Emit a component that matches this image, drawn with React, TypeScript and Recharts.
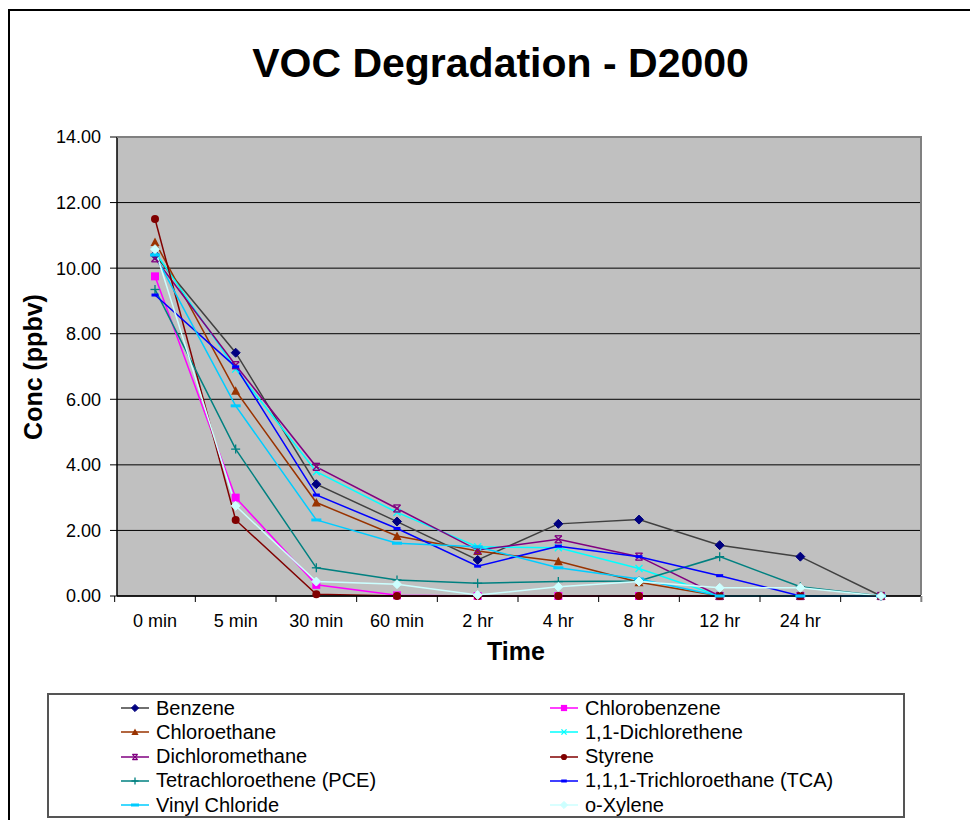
import { LineChart, Line, XAxis, YAxis, CartesianGrid } from 'recharts';

const categories = ['0 min', '5 min', '30 min', '60 min', '2 hr', '4 hr', '8 hr', '12 hr', '24 hr', ''];
const yTicks = [0, 2, 4, 6, 8, 10, 12, 14];

const benzene = [10.4, 7.42, 3.41, 2.27, 1.1, 2.2, 2.33, 1.55, 1.2, 0];
const chlorobenzene = [9.75, 3.0, 0.34, 0.02, 0, 0, 0, 0, 0, 0];
const chloroethane = [10.8, 6.26, 2.85, 1.83, 1.37, 1.06, 0.42, 0, 0, 0];
const dichlorethene = [10.5, 6.92, 3.79, 2.55, 1.5, 1.47, 0.84, 0, 0, 0];
const dichloromethane = [10.3, 7.04, 3.94, 2.67, 1.4, 1.73, 1.2, 0, 0, 0];
const styrene = [11.5, 2.32, 0.05, 0, 0, 0, 0, 0, 0, 0];
const pce = [9.35, 4.48, 0.86, 0.49, 0.39, 0.44, 0.46, 1.2, 0.28, 0];
const tca = [9.18, 6.99, 3.08, 2.06, 0.91, 1.52, 1.2, 0.62, 0, 0];
const vinylChloride = [10.4, 5.8, 2.32, 1.61, 1.5, 0.86, 0.52, 0, 0, 0];
const oXylene = [10.58, 2.75, 0.44, 0.36, 0.03, 0.28, 0.44, 0.25, 0.25, 0];

type Shape = 'diamond' | 'square' | 'triangle' | 'star' | 'x' | 'circle' | 'plus' | 'dash' | 'longdash';

interface Series {
  name: string;
  values: number[];
  stroke: string;
  marker: string;
  shape: Shape;
}

// drawing order (later on top), as in the original workbook
const series: Series[] = [
  { name: 'Benzene', values: benzene, stroke: '#404040', marker: '#000080', shape: 'diamond' },
  { name: 'Chlorobenzene', values: chlorobenzene, stroke: '#FF00FF', marker: '#FF00FF', shape: 'square' },
  { name: 'Chloroethane', values: chloroethane, stroke: '#993300', marker: '#993300', shape: 'triangle' },
  { name: '1,1-Dichlorethene', values: dichlorethene, stroke: '#00FFFF', marker: '#00FFFF', shape: 'x' },
  { name: 'Dichloromethane', values: dichloromethane, stroke: '#800080', marker: '#800080', shape: 'star' },
  { name: 'Styrene', values: styrene, stroke: '#800000', marker: '#800000', shape: 'circle' },
  { name: 'Tetrachloroethene (PCE)', values: pce, stroke: '#008080', marker: '#008080', shape: 'plus' },
  { name: '1,1,1-Trichloroethane (TCA)', values: tca, stroke: '#0000FF', marker: '#0000FF', shape: 'dash' },
  { name: 'Vinyl Chloride', values: vinylChloride, stroke: '#00CCFF', marker: '#00CCFF', shape: 'longdash' },
  { name: 'o-Xylene', values: oXylene, stroke: '#CCFFFF', marker: '#CCFFFF', shape: 'diamond' },
];

const legendRows = [
  ['Benzene', 'Chlorobenzene'],
  ['Chloroethane', '1,1-Dichlorethene'],
  ['Dichloromethane', 'Styrene'],
  ['Tetrachloroethene (PCE)', '1,1,1-Trichloroethane (TCA)'],
  ['Vinyl Chloride', 'o-Xylene'],
];

const chartData = categories.map((time, i) => {
  const row: Record<string, string | number> = { time };
  series.forEach((s) => {
    row[s.name] = s.values[i];
  });
  return row;
});

const FONT = '"Liberation Sans", Arial, sans-serif';
const W = 970;
const H = 812;
const PLOT_LEFT = 109;
const PLOT_RIGHT = 913;
const PLOT_TOP = 129;
const PLOT_BOTTOM = 588;
const PAD_L = 38;
const PAD_R = 40;
const STEP = (PLOT_RIGHT - PLOT_LEFT - PAD_L - PAD_R) / (categories.length - 1);

function marker(shape: Shape, color: string, cx: number, cy: number, size = 1) {
  const s = 4.5 * size;
  switch (shape) {
    case 'diamond':
      return <polygon points={`${cx},${cy - s} ${cx + s},${cy} ${cx},${cy + s} ${cx - s},${cy}`} fill={color} stroke={color} />;
    case 'square':
      return <rect x={cx - s + 0.5} y={cy - s + 0.5} width={2 * s - 1} height={2 * s - 1} fill={color} />;
    case 'triangle':
      return <polygon points={`${cx},${cy - s} ${cx + s},${cy + s - 0.5} ${cx - s},${cy + s - 0.5}`} fill={color} />;
    case 'circle':
      return <circle cx={cx} cy={cy} r={s - 0.5} fill={color} />;
    case 'x':
      return (
        <g stroke={color} strokeWidth={1.3}>
          <line x1={cx - s + 1} y1={cy - s + 1} x2={cx + s - 1} y2={cy + s - 1} />
          <line x1={cx - s + 1} y1={cy + s - 1} x2={cx + s - 1} y2={cy - s + 1} />
        </g>
      );
    case 'star':
      return (
        <g stroke={color} strokeWidth={1.3}>
          <line x1={cx - s + 1} y1={cy - s + 1} x2={cx + s - 1} y2={cy + s - 1} />
          <line x1={cx - s + 1} y1={cy + s - 1} x2={cx + s - 1} y2={cy - s + 1} />
          <line x1={cx - s + 1} y1={cy - s + 1} x2={cx + s - 1} y2={cy - s + 1} />
          <line x1={cx - s + 1} y1={cy + s - 1} x2={cx + s - 1} y2={cy + s - 1} />
        </g>
      );
    case 'plus':
      return (
        <g stroke={color} strokeWidth={1.3}>
          <line x1={cx - s} y1={cy} x2={cx + s} y2={cy} />
          <line x1={cx} y1={cy - s} x2={cx} y2={cy + s} />
        </g>
      );
    case 'dash':
      return <rect x={cx - 3.5 * size} y={cy - 1.5} width={7 * size} height={3} fill={color} />;
    case 'longdash':
      return <rect x={cx - 5 * size} y={cy - 1.5} width={10 * size} height={3} fill={color} />;
  }
}

function makeDot(s: Series) {
  return (props: any) => {
    const { cx, cy, index } = props;
    if (cx == null || cy == null) return <g key={`${s.name}-${index}`} />;
    return <g key={`${s.name}-${index}`}>{marker(s.shape, s.marker, cx, cy)}</g>;
  };
}

function TimeTick(props: any) {
  const { x, y, payload, index } = props;
  const last = index === categories.length - 1;
  return (
    <g>
      <line x1={x - STEP / 2} y1={y} x2={x - STEP / 2} y2={y + 6} stroke="#000" />
      {last && <line x1={x + STEP / 2} y1={y} x2={x + STEP / 2} y2={y + 6} stroke="#808080" strokeWidth={2} />}
      <text x={x} y={y + 31} textAnchor="middle" fontSize={18} fontFamily={FONT} fill="#000">
        {payload.value}
      </text>
    </g>
  );
}

function LegendItem({ name }: { name: string }) {
  const s = series.find((x) => x.name === name)!;
  return (
    <div style={{ display: 'flex', alignItems: 'center', height: 24 }}>
      <svg width={28} height={12} style={{ display: 'block' }}>
        <line x1={0} y1={6} x2={28} y2={6} stroke={s.stroke} strokeWidth={1.5} />
        {marker(s.shape, s.marker, 14, 6, 0.8)}
      </svg>
      <span style={{ marginLeft: 7, fontSize: 20, fontFamily: FONT, color: '#000', whiteSpace: 'nowrap' }}>{name}</span>
    </div>
  );
}

export default function App() {
  return (
    <div style={{ position: 'relative', width: W, height: H, overflow: 'hidden', background: '#fff' }}>
      {/* outer chart border, runs off the page on the right and bottom */}
      <div style={{ position: 'absolute', left: 0, top: 1, width: 1000, height: 1000, border: '2px solid #000', boxSizing: 'border-box' }} />

      <div style={{ position: 'absolute', left: 0, top: 31, width: 985, textAlign: 'center', fontFamily: FONT, fontWeight: 'bold', fontSize: 41, lineHeight: '48px' }}>
        VOC Degradation - D2000
      </div>

      <div style={{ position: 'absolute', left: 0, top: 0 }}>
        <LineChart
          width={W}
          height={H}
          data={chartData}
          margin={{ top: PLOT_TOP, right: W - PLOT_RIGHT, bottom: H - PLOT_BOTTOM - 40, left: 0 }}
        >
          <CartesianGrid vertical={false} stroke="#000" fill="#C0C0C0" fillOpacity={1} />
          <XAxis
            dataKey="time"
            interval={0}
            padding={{ left: PAD_L, right: PAD_R }}
            tickLine={false}
            tickSize={0}
            tickMargin={0}
            height={40}
            axisLine={{ stroke: '#000', strokeWidth: 1.5 }}
            tick={<TimeTick />}
          />
          <YAxis
            width={PLOT_LEFT}
            domain={[0, 14]}
            ticks={yTicks}
            interval={0}
            tickSize={7}
            tickMargin={9}
            tickLine={{ stroke: '#000' }}
            axisLine={{ stroke: '#000', strokeWidth: 1.5 }}
            tickFormatter={(v: number) => v.toFixed(2)}
            tick={{ fontSize: 18, fontFamily: FONT, fill: '#000' }}
          />
          {series.map((s) => (
            <Line
              key={s.name}
              type="linear"
              dataKey={s.name}
              stroke={s.stroke}
              strokeWidth={1.5}
              dot={makeDot(s)}
              activeDot={false}
              isAnimationActive={false}
            />
          ))}
        </LineChart>
      </div>

      {/* plot area frame on top and right */}
      <div
        style={{
          position: 'absolute',
          left: PLOT_LEFT,
          top: PLOT_TOP - 1,
          width: PLOT_RIGHT - PLOT_LEFT + 1,
          height: PLOT_BOTTOM - PLOT_TOP,
          borderTop: '2px solid #808080',
          borderRight: '2px solid #808080',
          boxSizing: 'border-box',
          pointerEvents: 'none',
        }}
      />

      <div
        style={{
          position: 'absolute',
          left: 25 - 100,
          top: 359 - 15,
          width: 200,
          lineHeight: '30px',
          textAlign: 'center',
          transform: 'rotate(-90deg)',
          fontFamily: FONT,
          fontWeight: 'bold',
          fontSize: 25,
        }}
      >
        Conc (ppbv)
      </div>

      <div style={{ position: 'absolute', left: 508 - 100, top: 643 - 15, width: 200, lineHeight: '30px', textAlign: 'center', fontFamily: FONT, fontWeight: 'bold', fontSize: 25 }}>
        Time
      </div>

      <div
        style={{
          position: 'absolute',
          left: 39,
          top: 685,
          width: 858,
          height: 125,
          border: '2px solid #555',
          boxSizing: 'border-box',
          background: '#fff',
        }}
      >
        {legendRows.map((row, r) =>
          row.map((name, c) => (
            <div key={name} style={{ position: 'absolute', left: c === 0 ? 72 : 501, top: 1 + r * 24.3 }}>
              <LegendItem name={name} />
            </div>
          )),
        )}
      </div>
    </div>
  );
}
